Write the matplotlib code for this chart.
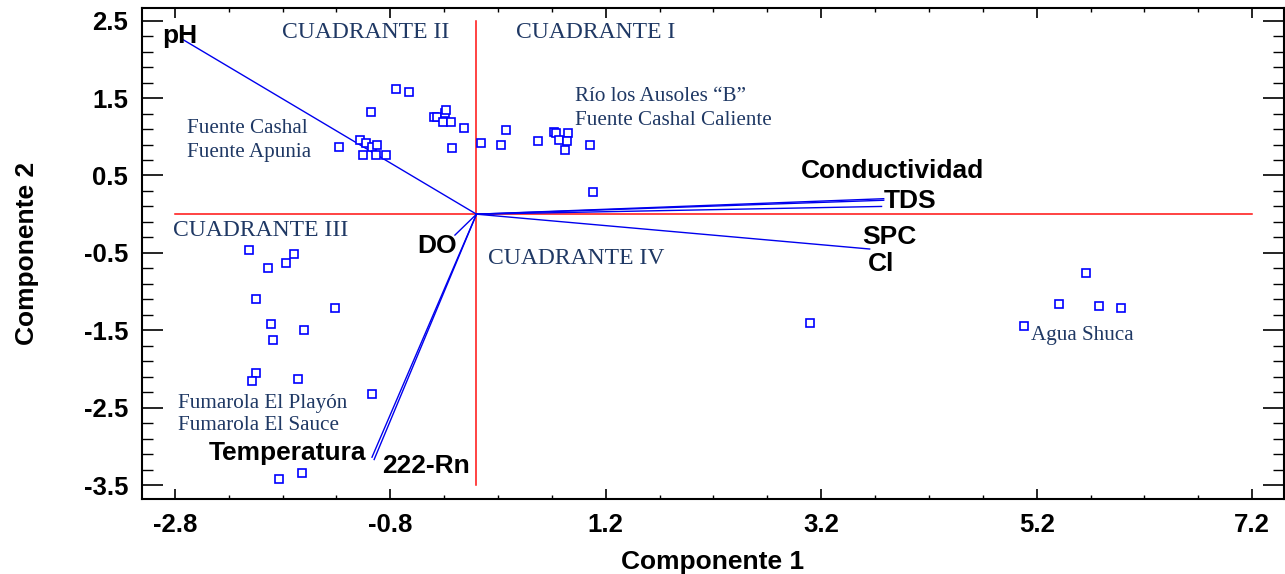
import matplotlib
matplotlib.use("Agg")
import matplotlib.pyplot as plt
import numpy as np

# scores of the samples on the first two components
comp1 = [-1.28, -1.08, -1.03, -0.98, -0.97, -0.92, -1.05, -0.93, -0.84, -0.75,
         -0.63, -0.39, -0.37, -0.29, -0.28, -0.31, -0.24, -0.12, -0.23,
         0.04, 0.27, 0.23, 0.57, 0.72, 0.74, 0.85, 0.77, 0.84, 0.82, 1.05, 1.08,
         -2.11, -1.94, -1.77, -1.69, -2.05, -1.31, -1.91, -1.60, -1.89, -2.05,
         -2.08, -1.66, -0.97, -1.83, -1.62,
         3.10, 5.08, 5.41, 5.66, 5.78, 5.98]
comp2 = [0.87, 0.96, 0.92, 1.32, 0.87, 0.90, 0.77, 0.77, 0.77, 1.62,
         1.58, 1.26, 1.26, 1.31, 1.35, 1.19, 1.19, 1.11, 0.85,
         0.92, 1.09, 0.89, 0.94, 1.06, 1.05, 1.05, 0.96, 0.94, 0.83, 0.89, 0.29,
         -0.46, -0.70, -0.63, -0.52, -1.10, -1.21, -1.42, -1.49, -1.62, -2.05,
         -2.16, -2.13, -2.32, -3.42, -3.34,
         -1.41, -1.44, -1.16, -0.76, -1.19, -1.21]

# variable loadings (scaled)
variables = ["pH", "Conductividad", "TDS", "SPC", "Cl", "DO", "Temperatura", "222-Rn"]
load1 = [-2.73, 3.78, 3.78, 3.76, 3.65, -0.20, -0.97, -0.95]
load2 = [2.26, 0.20, 0.18, 0.10, -0.45, -0.27, -3.14, -3.17]
var_label_pos = [(-2.92, 2.21), (3.01, 0.47), (3.78, 0.08), (3.58, -0.38),
                 (3.63, -0.74), (-0.55, -0.50), (-2.49, -3.18), (-0.88, -3.35)]

quadrants = ["CUADRANTE II", "CUADRANTE I", "CUADRANTE III", "CUADRANTE IV"]
quad_pos = [(-1.81, 2.28), (0.37, 2.28), (-2.82, -0.28), (0.11, -0.64)]

sites = ["Fuente Cashal", "Fuente Apunia", "Río los Ausoles \u201cB\u201d",
         "Fuente Cashal Caliente", "Fumarola El Playón", "Fumarola El Sauce",
         "Agua Shuca"]
site_pos = [(-2.69, 1.05), (-2.69, 0.74), (0.91, 1.46), (0.91, 1.15),
            (-2.77, -2.50), (-2.77, -2.79), (5.15, -1.63)]

xticks = [-2.8, -0.8, 1.2, 3.2, 5.2, 7.2]
yticks = [2.5, 1.5, 0.5, -0.5, -1.5, -2.5, -3.5]

navy = "#1f3864"
sans = "Liberation Sans"
serif = "Liberation Serif"

fig = plt.figure(figsize=(12.85, 5.74), dpi=100)
ax = fig.add_axes([142 / 1285, 1 - 499 / 574, (1284 - 142) / 1285, (499 - 8) / 574])

# reference axes through the origin
ax.plot([xticks[0], xticks[-1]], [0, 0], color="#ff1010", lw=1.1, zorder=1)
ax.plot([0, 0], [yticks[-1], yticks[0]], color="#ff1010", lw=1.1, zorder=1)

for x, y in zip(load1, load2):
    ax.plot([0, x], [0, y], color="#0000ee", lw=1.0, zorder=2)

ax.plot(comp1, comp2, ls="none", marker="s", ms=5.4, mfc="white",
        mec="#0000ff", mew=1.2, zorder=3)

for name, (x, y) in zip(variables, var_label_pos):
    ax.text(x, y, name, fontsize=19, fontweight="bold", family=sans,
            va="baseline", ha="left", color="black")
for name, (x, y) in zip(quadrants, quad_pos):
    ax.text(x, y, name, fontsize=17, family=serif, va="baseline", ha="left", color=navy)
for name, (x, y) in zip(sites, site_pos):
    ax.text(x, y, name, fontsize=15.2, family=serif, va="baseline", ha="left", color=navy)

ax.set_xlim(-3.105, 7.496)
ax.set_ylim(-3.68, 2.664)
ax.set_xticks(xticks)
ax.set_xticklabels([f"{v:.1f}" for v in xticks])
ax.set_yticks(yticks)
ax.set_yticklabels([f"{v:.1f}" for v in yticks])
ax.set_xticks(np.arange(-2.8, 7.3, 0.5), minor=True)
ax.set_yticks(np.arange(-3.5, 2.6, 0.2), minor=True)

ax.tick_params(axis="x", which="major", direction="in", length=7, width=1.2,
               top=True, pad=10)
ax.tick_params(axis="x", which="minor", direction="in", length=3, width=1.0, top=True)
ax.tick_params(axis="y", which="major", direction="in", length=15, width=1.2,
               right=True, pad=10)
ax.tick_params(axis="y", which="minor", direction="in", length=8, width=1.0, right=True)
for lab in ax.get_xticklabels() + ax.get_yticklabels():
    lab.set_fontfamily(sans)
    lab.set_fontweight("bold")
    lab.set_fontsize(18.5)
for sp in ax.spines.values():
    sp.set_linewidth(1.5)

ax.set_xlabel("Componente 1", fontsize=19, fontweight="bold", family=sans)
ax.set_ylabel("Componente 2", fontsize=19, fontweight="bold", family=sans)
ax.xaxis.set_label_coords(0.5, -0.103)
ax.yaxis.set_label_coords(-0.09, 0.5)

fig.savefig("out.png", dpi=100)
